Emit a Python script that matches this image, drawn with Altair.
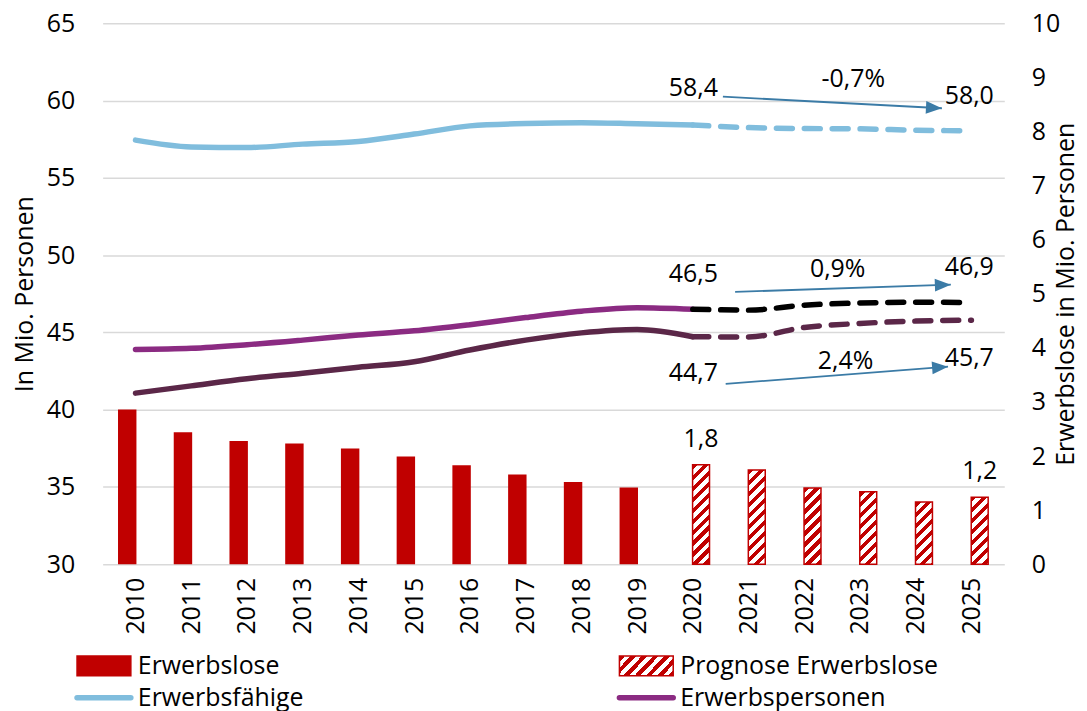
import math
import altair as alt
import pandas as pd

FONT = "Open Sans"
RED = "#C00000"
BLUE_LIGHT = "#80BDDD"
PURPLE = "#8B2B82"
DARK = "#5B2748"
ARROW = "#3B7BA6"
GRID = "#D9D9D9"

# ---------------- data ----------------
years = list(range(2010, 2026))
bar_years = list(range(2010, 2020))
prog_years = list(range(2020, 2026))
hist_years = list(range(2010, 2021))

erwerbslose = [2.86, 2.44, 2.28, 2.23, 2.14, 1.99, 1.83, 1.66, 1.52, 1.42]
prognose_erwerbslose = [1.84, 1.74, 1.41, 1.34, 1.15, 1.24]
label_bar_years = [2020, 2025]

erwerbsfaehige_hist = [57.44, 57.0, 56.96, 57.18, 57.35, 57.83, 58.36, 58.51, 58.57, 58.5, 58.42]
erwerbsfaehige_prog = [58.42, 58.25, 58.19, 58.17, 58.08, 58.04]
erwerbspersonen_hist = [43.9, 43.97, 44.2, 44.5, 44.83, 45.1, 45.5, 45.96, 46.37, 46.6, 46.5]
erwerbspersonen_prog = [46.5, 46.44, 46.76, 46.9, 46.95, 46.93]
erwerbstaetige_hist = [41.07, 41.54, 42.0, 42.36, 42.74, 43.1, 43.86, 44.5, 44.97, 45.19, 44.72]
erwerbstaetige_prog = [44.72, 44.7, 45.32, 45.58, 45.73, 45.79]

# annotation arrows (data units: year, million persons)
arrow_x1 = [2020.54, 2020.76, 2020.59]
arrow_y1 = [60.25, 47.62, 41.67]
arrow_x2 = [2024.47, 2024.63, 2024.58]
arrow_y2 = [59.5, 48.09, 42.78]

start_text = ["58,4", "46,5", "44,7"]
start_x = [2020.45, 2020.45, 2020.45]
start_y = [60.81, 48.76, 42.38]
pct_text = ["-0,7%", "0,9%", "2,4%"]
pct_x = [2022.88, 2022.6, 2022.74]
pct_y = [61.39, 49.08, 43.15]
end_text = ["58,0", "46,9", "45,7"]
end_x = [2024.52, 2024.52, 2024.52]
end_y = [60.3, 49.24, 43.34]

legend_labels = ["Erwerbslose", "Prognose Erwerbslose", "Erwerbsfähige", "Erwerbspersonen"]
legend_col = [0, 1, 0, 1]
legend_row = [0, 0, 1, 1]

# ---------------- geometry / styles ----------------
W, H = 905, 543
X_DOMAIN = [2009.5, 2025.5]
YL_DOMAIN = [30, 65]
YR_DOMAIN = [0, 10]
px_x = W / (X_DOMAIN[1] - X_DOMAIN[0])
px_yl = H / (YL_DOMAIN[1] - YL_DOMAIN[0])
px_yr = H / (YR_DOMAIN[1] - YR_DOMAIN[0])


def hatch(w, h, period=11.0, duty=0.5):
    L = w + h
    stops = [{"offset": 0, "color": RED}]
    s, red = 0.0, True
    while True:
        nxt = s + (period * duty if red else period * (1 - duty))
        if nxt >= L:
            break
        now_c = RED if red else "white"
        nxt_c = "white" if red else RED
        stops.append({"offset": nxt / L, "color": now_c})
        stops.append({"offset": nxt / L, "color": nxt_c})
        s, red = nxt, not red
    stops.append({"offset": 1, "color": RED if red else "white"})
    c = L / (w * w + h * h)
    return {"gradient": "linear", "x1": 0, "y1": 0, "x2": w * c, "y2": h * c, "stops": stops}


x_scale = alt.Scale(domain=X_DOMAIN, nice=False, zero=False)
x_axis = alt.Axis(values=years, format="d", labelAngle=270, labelPadding=13, ticks=False,
                  tickSize=0, domain=False, grid=False, title=None, labelFlush=False,
                  labelOverlap=False, labelFont=FONT, labelFontSize=25, labelColor="black")


def X(f):
    return alt.X(f"{f}:Q", scale=x_scale, axis=x_axis)


yl_scale = alt.Scale(domain=YL_DOMAIN, nice=False, zero=False)
yl_axis = alt.Axis(orient="left", values=list(range(30, 66, 5)), title="In Mio. Personen",
                   grid=True, gridColor=GRID, gridWidth=1.5, domain=False, ticks=False,
                   tickSize=0, labelPadding=28, titlePadding=9, labelFont=FONT,
                   labelFontSize=25, labelColor="black", titleFont=FONT, titleFontSize=25,
                   titleFontWeight="normal", titleColor="black")


def YL(f):
    return alt.Y(f"{f}:Q", scale=yl_scale, axis=yl_axis)


yr_scale = alt.Scale(domain=YR_DOMAIN, nice=False, zero=True)
yr_axis = alt.Axis(orient="right", values=list(range(0, 11)),
                   title="Erwerbslose in Mio. Personen", grid=False, domain=False,
                   ticks=False, tickSize=0, labelPadding=27, titleAngle=270,
                   titleBaseline="top", titlePadding=-6, labelFont=FONT, labelFontSize=25,
                   labelColor="black", titleFont=FONT, titleFontSize=25,
                   titleFontWeight="normal", titleColor="black")


def YR(f):
    return alt.Y(f"{f}:Q", scale=yr_scale, axis=yr_axis)


# ---------------- bars (right axis) ----------------
df_bars = pd.DataFrame({"year": bar_years, "value": erwerbslose})
df_prog = pd.DataFrame({"year": prog_years, "value": prognose_erwerbslose})

bars = alt.Chart(df_bars).mark_bar(width=18.5, xOffset=-8.3, color=RED).encode(
    x=X("year"), y=YR("value"))

fill_cond = [{"test": f"datum.year == {y}", "value": hatch(17, v * px_yr)}
             for y, v in zip(prog_years, prognose_erwerbslose)]
prog_bars = alt.Chart(df_prog).mark_bar(width=17, xOffset=8.3, stroke=RED,
                                        strokeWidth=1.5).encode(
    x=X("year"), y=YR("value"), fill={"condition": fill_cond, "value": "white"})

bar_labels = alt.Chart(df_prog).transform_filter(
    alt.FieldOneOfPredicate(field="year", oneOf=label_bar_years)
).transform_calculate(
    label="replace(format(datum.value, '.1f'), '.', ',')"
).mark_text(dy=-26, xOffset=8.3, font=FONT, fontSize=25, color="black",
            baseline="middle").encode(x=X("year"), y=YR("value"), text="label:N")

right = alt.layer(bars, prog_bars, bar_labels)

# ---------------- lines (left axis) ----------------
series_names = ["Erwerbsfähige", "Erwerbspersonen", "Erwerbstätige"]
prog_names = ["Erwerbsfähige Prognose", "Erwerbspersonen Prognose", "Erwerbstätige Prognose"]
hist_rows = []
for name, vals in zip(series_names, [erwerbsfaehige_hist, erwerbspersonen_hist, erwerbstaetige_hist]):
    for y, v in zip(hist_years, vals):
        hist_rows.append({"series": name, "year": y, "value": v})
prog_rows = []
for name, vals in zip(prog_names, [erwerbsfaehige_prog, erwerbspersonen_prog, erwerbstaetige_prog]):
    for y, v in zip(prog_years, vals):
        prog_rows.append({"pseries": name, "year": y, "value": v})

solid = alt.Chart(pd.DataFrame(hist_rows)).mark_line(
    strokeWidth=5.5, strokeCap="round", strokeJoin="round", interpolate="monotone"
).encode(x=X("year"), y=YL("value"),
         color=alt.Color("series:N", scale=alt.Scale(domain=series_names,
                                                     range=[BLUE_LIGHT, PURPLE, DARK]),
                         legend=None))

dashed = alt.Chart(pd.DataFrame(prog_rows)).mark_line(
    strokeWidth=5.5, strokeCap="round", strokeJoin="round", interpolate="monotone",
    strokeDash=[16, 12]
).encode(x=X("year"), y=YL("value"),
         stroke=alt.Stroke("pseries:N", scale=alt.Scale(domain=prog_names,
                                                        range=[BLUE_LIGHT, "black", DARK]),
                           legend=None))

angles = []
for x1, y1, x2, y2 in zip(arrow_x1, arrow_y1, arrow_x2, arrow_y2):
    dx = (x2 - x1) * px_x
    dy = -(y2 - y1) * px_yl
    angles.append(math.degrees(math.atan2(dy, dx)) % 360)
df_arrows = pd.DataFrame({"x1": arrow_x1, "y1": arrow_y1, "x2": arrow_x2, "y2": arrow_y2,
                          "ang": angles})
arrow_lines = alt.Chart(df_arrows).mark_rule(color=ARROW, strokeWidth=1.8).encode(
    x=X("x1"), x2="x2:Q", y=YL("y1"), y2="y2:Q")
arrow_heads = alt.Chart(df_arrows).mark_point(
    shape="M0,0L-2,-0.8L-2,0.8Z", size=256, filled=True, color=ARROW, opacity=1
).encode(x=X("x2"), y=YL("y2"), angle=alt.Angle("ang:Q", scale=None))


def ann(texts, xs, ys, align):
    d = pd.DataFrame({"t": texts, "x": xs, "y": ys})
    return alt.Chart(d).mark_text(align=align, baseline="middle", font=FONT, fontSize=25,
                                  color="black").encode(x=X("x"), y=YL("y"), text="t:N")


left = alt.layer(solid, dashed, arrow_lines, arrow_heads,
                 ann(start_text, start_x, start_y, "right"),
                 ann(pct_text, pct_x, pct_y, "center"),
                 ann(end_text, end_x, end_y, "left"))

main = alt.layer(right, left).resolve_scale(y="independent").properties(width=W, height=H)

# ---------------- legend ----------------
leg_df = pd.DataFrame({"label": legend_labels, "col": legend_col, "row": legend_row})
lx = alt.X("col:Q", scale=alt.Scale(domain=[0, 1], range=[1.3, 545.7]), axis=None)
ly = alt.Y("row:Q", scale=alt.Scale(domain=[0, 1], range=[12, 44]), axis=None)

RECT_PATH = "M-1,-0.37L1,-0.37L1,0.37L-1,0.37Z"
leg_rect = alt.Chart(leg_df).transform_filter("datum.row == 0").mark_point(
    shape=RECT_PATH, size=2916, filled=True, opacity=1, stroke=RED, strokeWidth=1.5
).encode(x=lx, y=ly,
         fill={"condition": {"test": "datum.label == 'Prognose Erwerbslose'",
                             "value": hatch(52.5, 18.5)}, "value": RED})
leg_line = alt.Chart(leg_df).transform_filter("datum.row == 1").mark_point(
    shape="M-1,0L1,0", size=2916, filled=False, opacity=1, strokeWidth=5.5, strokeCap="round"
).encode(x=lx, y=ly,
         stroke=alt.Stroke("label:N", scale=alt.Scale(domain=legend_labels[2:],
                                                      range=[BLUE_LIGHT, PURPLE]),
                           legend=None))
leg_text = alt.Chart(leg_df).mark_text(align="left", baseline="middle", dx=34, font=FONT,
                                       fontSize=25, color="black").encode(
    x=lx, y=ly, text="label:N")
legend = alt.layer(leg_rect, leg_line, leg_text).properties(width=880, height=50)

chart = alt.vconcat(main, legend, spacing=18).resolve_scale(
    color="independent", stroke="independent", fill="independent"
).properties(
    padding={"left": 4, "top": 2, "right": 0, "bottom": 0}
).configure_view(stroke=None)

chart.save("out.html", embed_options={"renderer": "svg", "actions": False})
